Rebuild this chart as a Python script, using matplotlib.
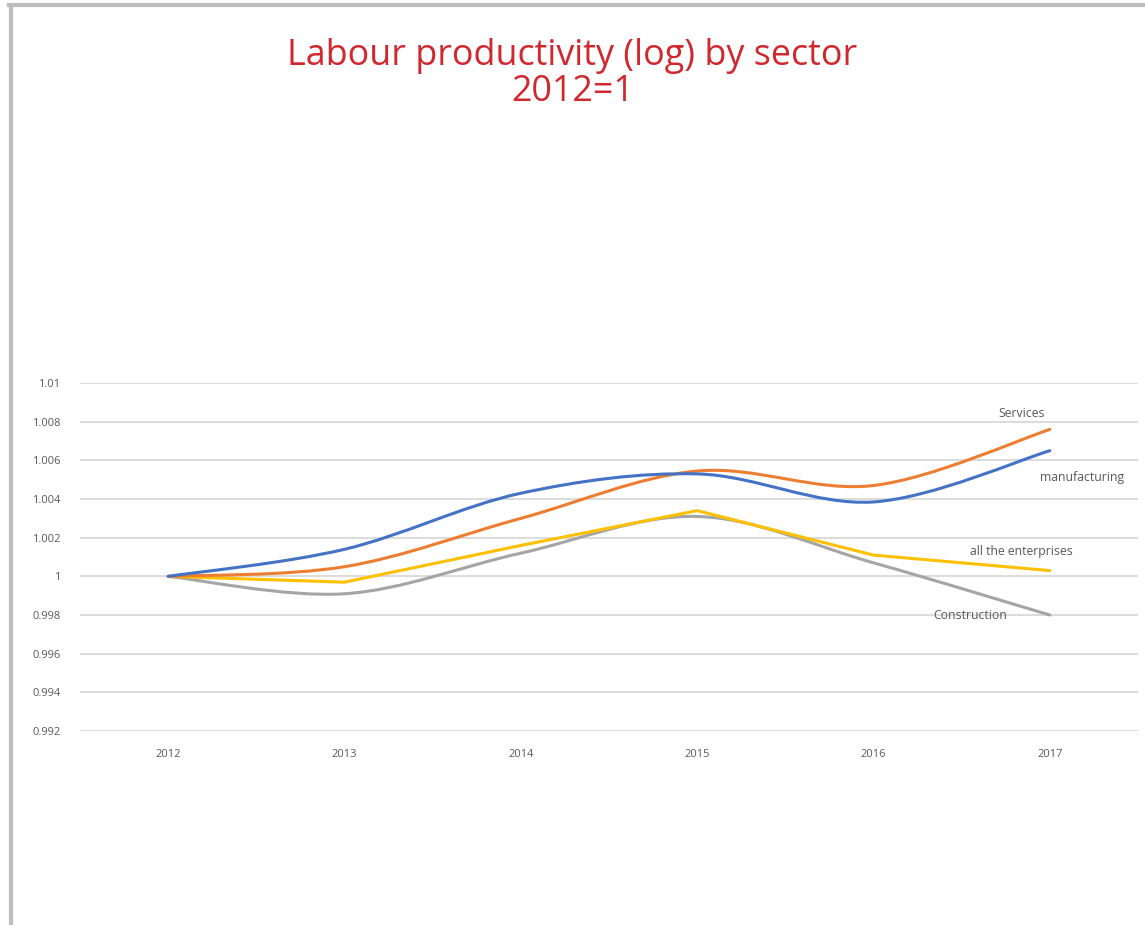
import matplotlib
matplotlib.use("Agg")
import matplotlib.pyplot as plt
import numpy as np
from matplotlib.path import Path
from matplotlib.patches import PathPatch
from matplotlib.lines import Line2D
from matplotlib.ticker import FuncFormatter

plt.rcParams['font.family'] = ['Open Sans', 'DejaVu Sans']

years = [2012, 2013, 2014, 2015, 2016, 2017]
manufacturing = [1.0, 1.0014, 1.0043, 1.0053, 1.00385, 1.0065]
services = [1.0, 1.0005, 1.0030, 1.00545, 1.0047, 1.0076]
all_enterprises = [1.0, 0.9997, 1.0016, 1.0034, 1.0011, 1.0003]
construction = [1.0, 0.9991, 1.0012, 1.0031, 1.0007, 0.9980]

BLUE = "#4472C4"
ORANGE = "#ED7D31"
YELLOW = "#FFC000"
GRAY = "#A5A5A5"
TXT = "#595959"


def smooth_path(xs, ys):
    # excel-style smoothed line as cubic bezier segments
    pts = np.column_stack([xs, ys]).astype(float)
    n = len(pts)
    verts = [pts[0]]
    codes = [Path.MOVETO]
    for i in range(n - 1):
        p0 = pts[i - 1] if i > 0 else pts[i]
        p1 = pts[i]
        p2 = pts[i + 1]
        p3 = pts[i + 2] if i + 2 < n else pts[i + 1]
        verts += [p1 + (p2 - p0) / 6, p2 - (p3 - p1) / 6, p2]
        codes += [Path.CURVE4] * 3
    return Path(verts, codes)


fig = plt.figure(figsize=(11.45, 9.25), dpi=100)
ax = fig.add_axes([0.0699, 0.2097, 0.9240, 0.3762])

ax.add_patch(PathPatch(smooth_path(years, construction), facecolor="none",
                       edgecolor=GRAY, lw=2.2, capstyle="round", zorder=3))
ax.plot(years, all_enterprises, color=YELLOW, lw=2.2, zorder=4,
        solid_capstyle="round")
ax.add_patch(PathPatch(smooth_path(years, services), facecolor="none",
                       edgecolor=ORANGE, lw=2.2, capstyle="round", zorder=5))
ax.add_patch(PathPatch(smooth_path(years, manufacturing), facecolor="none",
                       edgecolor=BLUE, lw=2.2, capstyle="round", zorder=6))

ax.set_xlim(2011.5, 2017.5)
ax.set_ylim(0.992, 1.01)
ax.set_yticks(np.arange(0.992, 1.0101, 0.002))
ax.yaxis.set_major_formatter(FuncFormatter(lambda v, p: "%g" % round(v, 3)))
ax.set_xticks(years)
ax.grid(axis="y", color="#D9D9D9", lw=1.3)
ax.grid(axis="x", visible=False)
for s in ax.spines.values():
    s.set_visible(False)
ax.tick_params(length=0, labelsize=8, labelcolor=TXT)
ax.tick_params(axis="y", pad=14)
ax.tick_params(axis="x", pad=13)

lab = dict(fontsize=8.8, color=TXT, ha="center", va="center")
ax.text(2016.84, 1.00845, "Services", **lab)
ax.text(2017.18, 1.0051, "manufacturing", **lab)
ax.text(2016.84, 1.0013, "all the enterprises", **lab)
ax.text(2016.55, 0.9980, "Construction", zorder=2, **lab)

fig.text(0.5, 0.940, "Labour productivity (log) by sector", fontsize=25.8,
         color="#D0282E", ha="center", va="center")
fig.text(0.5, 0.901, "2012=1", fontsize=25.8, color="#D0282E",
         ha="center", va="center")

# frame of the screenshot
fig.add_artist(Line2D([0.0092, 0.0092], [0, 0.9946], transform=fig.transFigure,
                      color="#BEBEBE", lw=3))
fig.add_artist(Line2D([0.0079, 1.0], [0.9946, 0.9946], transform=fig.transFigure,
                      color="#BEBEBE", lw=3))

fig.savefig("out.png", dpi=100)
